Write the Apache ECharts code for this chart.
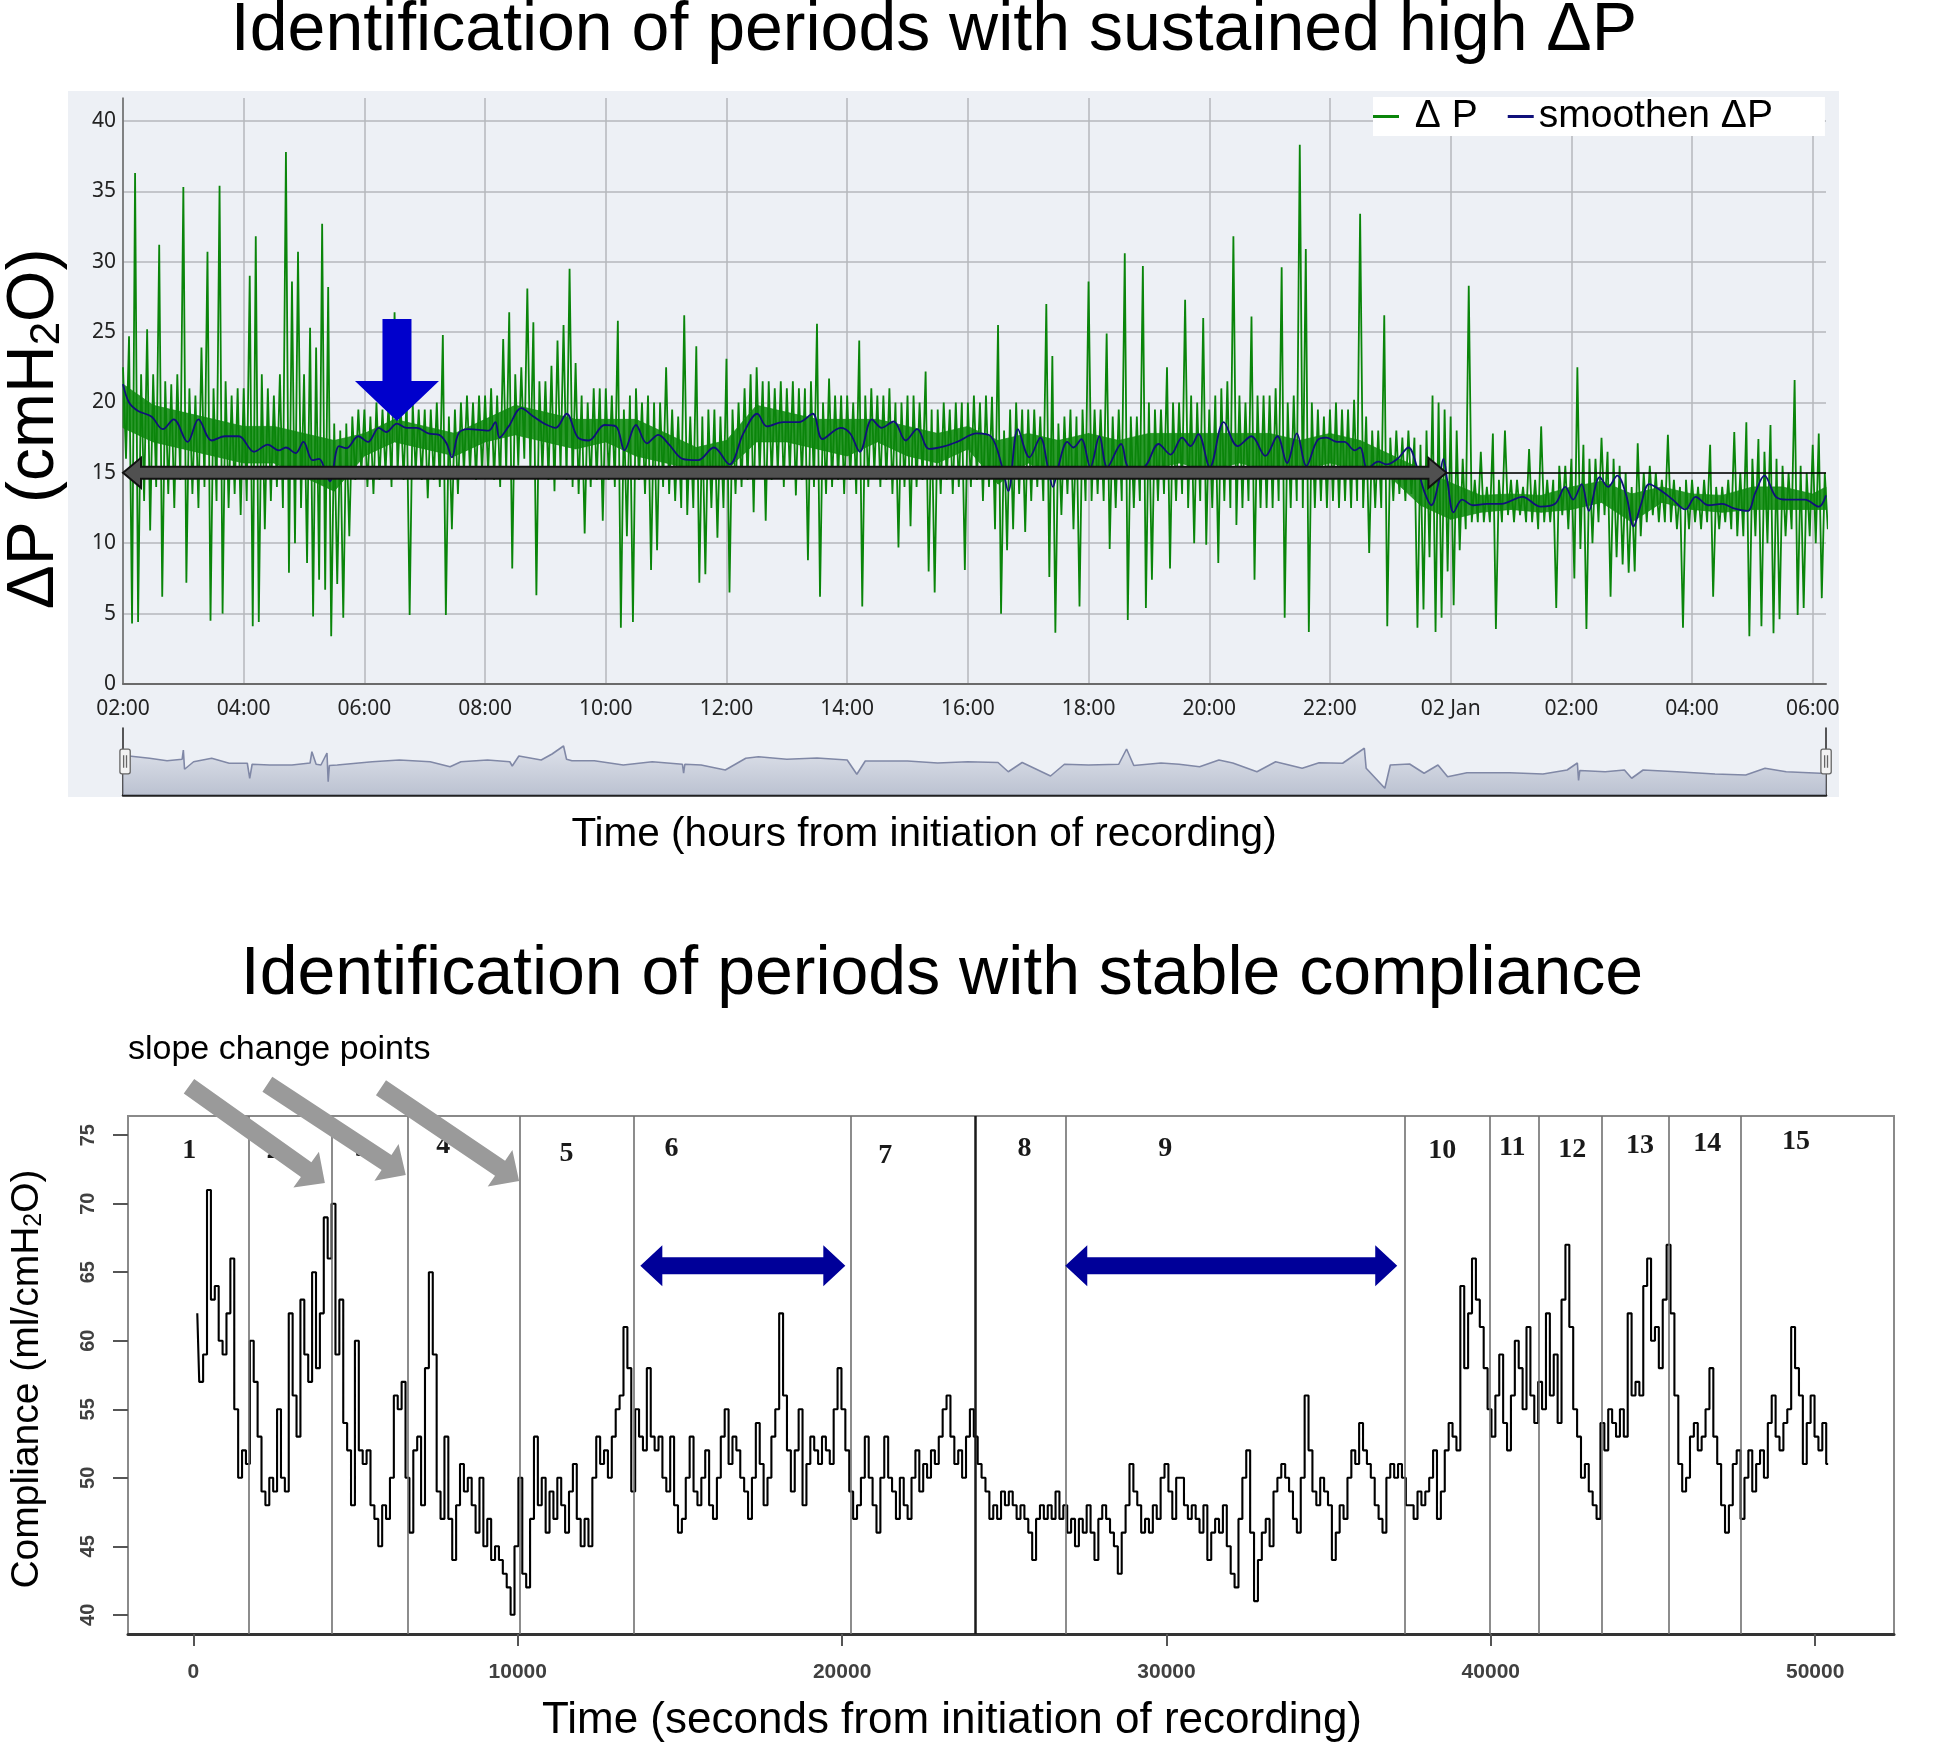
<!DOCTYPE html>
<html><head><meta charset="utf-8">
<script src="https://cdn.jsdelivr.net/npm/echarts@6/dist/echarts.min.js"></script>
<style>html,body{margin:0;padding:0;background:#fff;}#c{width:1948px;height:1745px;}</style>
</head><body><div id="c"></div>
<script>
// ---------- data: top chart (hours since 02:00) ----------
const timeTickLabels = ['02:00','04:00','06:00','08:00','10:00','12:00','14:00','16:00','18:00','20:00','22:00','02 Jan','02:00','04:00','06:00'];
const dpBinStart = 0, dpBinStep = 0.1;
const dpHigh = [
22.5,24.7,36.3,22,25.2,22,31.2,21.5,21.3,22,
35.3,21,20.5,23.9,30.7,21,35.4,21.5,20.5,21,
21,29,31.8,22,21,20.5,22,37.8,28.6,30.7,
22,25.3,23.9,32.7,28.2,18.5,18,18.5,19,19.5,
19.5,19,20,19.5,20,26.4,20,20.5,20,19.5,
19.5,19.5,20,24.8,19,19.5,20,20.5,20,20.5,
20.5,21,20.5,24.5,26.4,22,22.5,28.1,25.7,21.5,
21.5,22.6,24.4,25.5,29.5,22.8,20.5,20,21,21,
21,20.5,25.8,19.5,20.5,21,20,20.5,20,20,
22.5,19.5,19,26.2,19,24,19,19.5,19.5,19,
23.1,19.5,20,21,22,22.5,21.5,21.5,21,21.5,
21,21.5,21,21,21.5,25.6,20,21.7,20.5,20.5,
20.5,20,24.4,20.5,21,20.5,20.5,21,20,20,
20.5,20.5,20,22.2,19.5,19.5,20,19.5,20,20,
20,20.5,20,20.5,20.4,25.5,18,19.5,20,19.5,
19.5,19.5,19,27,23.3,18.5,19,19.5,19,19.5,
28.6,19.5,19.5,24.9,19,19.5,30.6,19,19,29.7,
20,19.5,19.5,22.5,20,20,27.3,20.5,20,26,
19.5,20.5,21,21.5,31.8,20.5,20,26.1,20.5,20.5,
20.5,21,29.6,20,20.5,38.3,30.9,20,19.5,19,
19.5,20,19.5,19.5,20.2,33.4,19,18,18,26.2,
17.5,18,17.5,18,17.5,17,18,20.5,20,19.5,
19,18,16,28.3,14.5,16.5,14,17.8,14.5,18,
14.5,14.5,14,16.7,14.5,18.3,14.5,14.5,15.5,15.5,
16,22.5,17,16,16,17.5,16.5,16,15.5,15,
14,17.1,15,15.5,15,14.5,17.7,14.5,14,14.5,
14.5,14,14.5,17,14,14,14.5,17.9,15,18.6,
16,17.4,16.5,18.4,16,15.5,15,21.6,15.5,15,
17,17.8,15];
const dpLow = [
16,4.3,4.4,13,10.9,14,6.2,13.5,12.5,14.5,
7.2,13.5,12.5,14,4.5,13,5,12.5,13.5,12,
13,4.1,4.4,11,13,14,12.5,7.9,10,12.5,
8.6,4.8,7.4,6.7,3.4,7.1,4.7,10.5,14.5,15,
14,13.5,14.5,15,14,15,14.5,4.9,15,14.5,
13.2,14.5,14,4.9,11,13.5,15,15,14.5,15,
15,14.5,14,15,8.2,15.5,16,15,6.3,15,
14.5,13.7,15,14.5,14,13.5,10.7,14,14.5,11.6,
14.5,14,4,10.5,4.4,14.5,13.5,8.1,9.5,14,
13.5,13,12.5,12,12.5,7.2,7.8,12.5,10.4,12.5,
6.5,13.5,14,14.5,12.2,15,11.6,14.5,15,14,
15,13.4,14.5,8.8,14,6.2,13.5,14,14.5,13.5,
14.5,13.5,5.5,14,15,14,14.5,13.5,9.7,14,
11.2,14,14.5,8,6.5,13.5,14.5,13.5,14,8.1,
14,14.5,13,14,11,5,9.5,11,13.5,10.8,
13,14,13,7.6,3.65,12,13.5,11,5.5,13,
13,13.5,13,9.6,12.5,13,4.55,12.5,13,5.4,
7.4,13,13.5,8.2,13,13.5,12.5,10,13,9.9,
12.5,8.6,13,12.5,11.3,12.5,13,7.4,12.5,12.5,
12.5,13,4.7,12.5,13,12.5,3.7,12.5,13,12.5,
13,12.5,13,12.5,13,12.5,9.3,12.5,12.5,4.1,
13,13.5,13,13.5,4,5.3,9,3.7,4.7,8,
5.6,9.5,11,11.5,11.5,11.5,11.5,3.9,11.5,12,
11.5,12,11.5,11.5,11,11.5,11.5,5.4,12,11,
7.5,9.6,3.9,10,11.5,12,6.2,9,8.5,7.9,
8,10.5,11.5,12,11.5,11.5,11.5,11,4,11,
11.5,11,11.5,6.2,11,11.5,11,10.5,10.5,3.4,
10.5,4.1,10,3.6,4.6,10.5,11,4.9,5.4,10.5,
10,6.1,11];
// dense core of the ΔP trace (where the samples are packed), read every 0.5 h
const coreT  = [0,0.5,1,1.5,2,2.5,3,3.5,4,4.5,5,5.5,6,6.5,7,7.5,8,8.5,9,9.5,10,10.5,11,11.5,12,12.5,13,13.5,14,14.5,15,15.5,16,16.5,17,17.5,18,18.5,19,19.5,20,20.5,21,21.5,22,22.5,23,23.5,24,24.5,25,25.5,26,26.5,27,27.5,28,28.22];
const coreHi = [21.3,19.8,19.3,18.8,18.3,18.3,17.8,17.3,17.8,18.8,18.3,17.8,18.8,19.8,19.3,18.8,18.8,18.8,17.8,16.8,17.3,19.8,19.3,18.8,18.8,18.8,18.3,17.8,18.3,17.3,17.8,17.3,17.8,17.3,17.8,17.8,17.8,17.8,17.8,17.3,17.8,17.3,16.3,15.3,14.3,13.4,13.5,13.4,14,14.4,13.5,14,13.5,13.4,14,14,13.5,14];
const coreLo = [18.2,17.2,16.7,16.2,15.7,15.7,14.7,13.7,16.2,17.2,16.7,16.2,17.2,17.7,17.2,16.7,17.2,16.2,15.7,15.2,15.2,17.2,17.2,16.7,16.2,17.2,16.2,15.7,16.7,14.2,15.7,14.7,15.2,14.7,15.2,15.7,15.2,15.7,15.2,15.2,15.7,15.2,14.7,12.7,11.7,12.2,12.4,12.2,12.4,12.9,11.5,12.9,12.4,12.2,12.4,12.4,12.4,12.4];
const smoothT = [0,0.1,0.25,0.47,0.66,0.84,1.07,1.25,1.47,1.69,1.92,2.17,2.4,2.58,2.7,2.86,2.99,3.14,3.25,3.34,3.43,3.58,3.7,3.9,4.06,4.24,4.36,4.54,4.69,4.87,5.06,5.24,5.36,5.45,5.56,5.72,6.06,6.17,6.24,6.39,6.6,6.8,6.98,7.17,7.35,7.54,7.72,7.98,8.17,8.31,8.5,8.68,8.87,9.05,9.27,9.53,9.79,10.05,10.28,10.51,10.67,10.94,11.2,11.43,11.59,11.89,12.05,12.21,12.41,12.57,12.77,12.97,13.16,13.36,13.62,13.82,14.15,14.38,14.57,14.67,14.83,15.02,15.2,15.33,15.41,15.49,15.65,15.75,15.88,16.03,16.18,16.31,16.54,16.67,16.9,17.16,17.36,17.55,17.69,17.82,18.01,18.24,18.47,18.7,18.93,19.13,19.29,19.45,19.61,19.79,19.94,20.12,20.24,20.41,20.5,20.62,20.8,20.94,21.12,21.3,21.45,21.57,21.68,21.8,21.88,21.95,22.05,22.19,22.37,22.6,22.84,23.19,23.49,23.73,23.9,24.03,24.17,24.29,24.47,24.61,24.76,24.91,25.03,25.15,25.29,25.5,25.68,25.89,26.06,26.27,26.5,26.68,26.92,27.05,27.2,27.39,27.57,27.87,28.1,28.22];
const smoothV = [21.3,20.0,19.4,19.0,18.1,18.8,17.2,18.8,17.3,17.6,17.6,16.5,17.0,16.6,16.8,16.4,17.2,15.9,16.0,15.3,14.4,16.9,16.75,17.6,17.2,18.2,17.9,18.5,18.2,18.2,17.8,17.7,17.1,16.1,17.8,18.1,18.0,18.6,17.5,18.3,19.6,19.0,18.5,18.2,19.2,17.5,17.3,18.4,18.3,16.6,18.4,17.1,17.7,17.0,16.0,15.9,16.8,15.6,17.8,19.2,18.3,18.6,18.6,19.2,17.4,18.2,17.8,16.5,18.8,18.2,18.65,17.3,18.1,16.7,16.9,17.2,17.8,17.6,15.4,13.7,18.1,16.1,17.5,15.3,14.0,15.3,17.2,16.8,17.4,15.4,17.6,15.4,17.05,15.4,15.4,17.05,16.3,17.5,16.9,17.75,15.4,18.6,16.9,17.6,16.2,17.6,15.7,17.8,15.5,17.3,17.5,17.2,17.2,16.6,16.8,15.3,15.8,15.6,16.0,16.8,15.3,13.6,12.7,14.3,16.0,14.3,12.2,13.1,12.7,12.8,12.8,13.3,12.6,12.8,14.0,13.1,14.2,12.3,14.7,14.0,14.8,13.4,11.2,12.7,14.2,13.7,13.1,12.4,13.3,12.7,12.8,12.5,12.3,13.6,14.8,13.3,13.1,13.1,12.6,13.4];
const navT = [0,0.1,0.44,0.73,0.98,1.0,1.02,1.17,1.47,1.76,2.06,2.1,2.14,2.43,2.8,3.1,3.13,3.2,3.28,3.38,3.4,3.42,3.55,4.13,4.58,5.09,5.42,5.6,6.04,6.41,6.45,6.56,6.93,7.11,7.3,7.35,7.44,7.81,8.29,8.77,9.27,9.29,9.31,9.58,9.98,10.32,10.53,11.0,11.5,12.0,12.16,12.3,13.0,13.5,14.0,14.5,14.67,14.9,15.37,15.6,16.0,16.5,16.63,16.75,17.2,17.5,17.84,18.16,18.39,18.79,19.1,19.54,19.82,20.21,20.57,20.6,20.91,21.0,21.32,21.56,21.79,21.95,22.27,22.98,23.53,23.93,24.1,24.12,24.14,24.56,24.88,25.0,25.19,25.75,26.38,26.89,27.21,27.56,28.12,28.22];
const navV = [20.5,19.8,18.9,17.9,18.5,22.2,14.5,17.5,18.9,16.9,16.9,10.9,16.5,16.2,16.2,17,21.5,16.5,16.2,21,9.5,16,16.2,17.5,18.2,17.5,15.5,17.5,18.2,17.5,15.8,19.8,18.2,20.6,23.8,18.5,17.9,17.9,16.2,17.5,16.5,12.9,16.5,16.2,14.2,18.9,19.5,18.5,19,18.2,12.5,17.8,17.8,17,17.5,17.2,13.5,17.2,11.8,16.5,16.2,16.5,22.6,16,17,16.5,15.5,18.2,17,13.5,17.5,14.9,17.1,16.9,22.9,14.9,6.9,16.2,16.6,12.9,16.2,11.5,13.1,13.1,12.6,14.2,17,10,14,13.5,14.2,10.9,14.2,13.5,12.6,12.2,14.9,13.5,12.9,13.2];
const dpThreshold = 15;
const highDpSpan = [0, 21.93, 15];          // start h, end h, level
const markerArrow = [4.54, 25.93, 18.69];   // h, top value, tip value

// ---------- data: bottom chart (seconds) ----------
const compStart = 120, compStep = 120;
const compliance = [
62,57,59,71,63,64,60,59,62,66, 55,50,52,51,60,57,53,49,48,50,
49,55,50,49,62,56,53,63,59,57, 65,58,62,69,66,70,59,63,54,52,
48,60,52,51,52,48,47,45,48,47, 50,56,55,57,50,46,52,53,48,58,
65,59,49,47,53,47,44,48,51,49, 50,48,46,50,45,47,44,45,44,43,
42,40,45,50,43,42,47,53,48,50, 46,49,47,50,48,46,49,51,47,45,
47,45,50,53,51,52,50,53,55,56, 61,58,49,55,53,52,58,53,52,53,
50,49,53,48,46,47,50,53,49,48, 50,52,48,47,50,53,55,51,53,52,
50,49,47,50,54,51,48,50,53,55, 62,56,52,49,52,55,48,51,53,52,
51,53,52,51,55,58,55,52,49,47, 48,50,53,50,48,46,50,53,50,49,
47,50,48,47,50,52,49,51,50,52, 51,53,55,56,53,51,52,50,53,55,
53,51,50,49,47,48,47,49,48,49, 48,47,48,47,46,44,47,48,47,48,
47,49,47,48,46,47,45,47,46,48, 46,44,47,48,47,46,45,43,46,48,
51,49,48,46,47,46,48,47,50,51, 49,47,50,50,48,47,48,47,46,48,
44,46,47,46,48,45,43,42,47,50, 52,46,41,44,46,47,45,49,50,51,
50,49,47,46,50,56,52,49,48,50, 49,48,44,46,48,47,50,52,51,54,
52,51,50,48,47,46,50,51,50,51, 50,48,48,47,49,48,49,50,52,47,
49,52,54,53,52,64,58,62,66,63, 61,58,55,53,56,59,54,52,56,60,
58,55,61,56,54,57,55,62,56,59, 54,63,67,61,55,53,50,51,49,48,
47,54,52,55,54,53,55,53,62,56, 57,56,64,66,60,61,58,63,67,62,
56,51,49,50,53,54,52,53,55,58, 53,51,48,46,48,51,52,47,50,52,
49,51,52,50,54,56,53,52,54,55, 61,58,56,51,54,56,53,52,54,51];
const secondTicks = [0,10000,20000,30000,40000,50000];
const complianceTicks = [40,45,50,55,60,65,70,75];
const changePoints = [1711,4254,6612,10049,13582,20253,24106,26880,37361,39982,41492,43434,45499,47703];
const segmentNames = ['1','2','3','4','5','6','7','8','9','10','11','12','13','14','15'];
const segmentX = [-130,2470,5200,7700,11500,14740,21330,25620,29960,38500,40660,42510,44600,46670,49410];
const segmentY = [73.84,73.84,73.98,74.2,73.62,73.98,73.47,73.98,73.98,73.84,74.05,73.9,74.2,74.35,74.5];
const stableSpans = [[13779,20099,65.47],[26880,37115,65.47]];
const slopeArrows = [[-136,78.57,4054,71.51],[2281,78.71,6547,72.09],[5783,78.46,10042,71.65]];

// ---------- build ----------
const dpData = [];
for (let i = 0; i < dpHigh.length; i++) {
  const t = dpBinStart + i * dpBinStep;
  dpData.push([+t.toFixed(3), dpHigh[i]]);
  dpData.push([+(t + dpBinStep / 2).toFixed(3), dpLow[i]]);
}
const coreRows = coreT.map((t, i) => [t, coreLo[i], coreHi[i]]);
const smoothData = smoothT.map((t, i) => [t, smoothV[i]]);
const navData = navT.map((t, i) => [t, navV[i]]);
const compData = compliance.map((v, i) => [compStart + i * compStep, v]);

const FONT = 'Liberation Sans';
const GREEN = '#0a850a';
const grayLines = (n) => { const a = []; for (let i = 0; i < n; i++) a.push('#b5b7bb'); a.push('rgba(0,0,0,0)'); return a; };

function doubleArrow(sh, hh, hl, fill, stroke, lw) {
  return function (params, api) {
    const p0 = api.coord([api.value(0), api.value(2)]);
    const p1 = api.coord([api.value(1), api.value(2)]);
    const y = p0[1], x0 = p0[0], x1 = p1[0];
    return { type: 'polygon', shape: { points: [[x0,y],[x0+hl,y-hh],[x0+hl,y-sh],[x1-hl,y-sh],[x1-hl,y-hh],[x1,y],[x1-hl,y+hh],[x1-hl,y+sh],[x0+hl,y+sh],[x0+hl,y+hh]] },
      style: { fill: fill, stroke: stroke, lineWidth: lw } };
  };
}
function pointerArrow(sh, hh, hl, fill) {
  return function (params, api) {
    const a = api.coord([api.value(0), api.value(1)]);
    const b = api.coord([api.value(2), api.value(3)]);
    const dx = b[0]-a[0], dy = b[1]-a[1], L = Math.hypot(dx, dy);
    const ux = dx/L, uy = dy/L, nx = -uy, ny = ux;
    const bx = b[0]-ux*hl, by = b[1]-uy*hl;
    return { type: 'polygon', shape: { points: [
      [a[0]+nx*sh, a[1]+ny*sh],[bx+nx*sh, by+ny*sh],[bx+nx*hh, by+ny*hh],[b[0], b[1]],
      [bx-nx*hh, by-ny*hh],[bx-nx*sh, by-ny*sh],[a[0]-nx*sh, a[1]-ny*sh]] },
      style: { fill: fill } };
  };
}

const option = {
  animation: false,
  textStyle: { fontFamily: FONT },
  legend: {
    left: 1373, top: 97, orient: 'horizontal', backgroundColor: '#fff',
    padding: [0, 52, 0, 0], itemGap: 30, itemWidth: 26, itemHeight: 3,
    textStyle: { fontSize: 39, color: '#000', fontFamily: FONT, lineHeight: 32 },
    formatter: (n) => n === 'ΔP' ? ' Δ P' : n,
    data: [{ name: 'ΔP', icon: 'rect' }, { name: 'smoothen ΔP', icon: 'rect' }]
  },
  grid: [
    { left: 123, right: 122, top: 98, height: 586 },
    { left: 123, right: 122, top: 728, height: 67 },
    { left: 128, right: 54, top: 1116, height: 518, show: true, borderColor: '#8a8a8a', borderWidth: 2 }
  ],
  xAxis: [
    { gridIndex: 0, type: 'value', min: 0, max: 28.22, interval: 2,
      axisLine: { show: true, onZero: false, lineStyle: { color: '#6a6a6a', width: 2 } },
      axisTick: { show: false },
      axisLabel: { fontSize: 21, color: '#222', fontFamily: 'Noto Sans', margin: 15, showMaxLabel: false,
        formatter: (v) => { const i = Math.round(v / 2); return Math.abs(v - 2 * i) < 1e-6 ? (timeTickLabels[i] || '') : ''; } },
      splitLine: { show: true, showMaxLine: false, lineStyle: { color: grayLines(15), width: 1.5 } } },
    { gridIndex: 1, type: 'value', min: 0, max: 28.22,
      axisLine: { show: true, onZero: false, lineStyle: { color: '#222', width: 2.5 } },
      axisTick: { show: false }, axisLabel: { show: false }, splitLine: { show: false } },
    { gridIndex: 2, type: 'value', min: -2016, max: 52430,
      axisLine: { show: true, onZero: false, lineStyle: { color: '#333', width: 3 } },
      axisTick: { show: true, customValues: secondTicks, length: 12, lineStyle: { color: '#555', width: 2 } },
      axisLabel: { customValues: secondTicks, fontSize: 21, fontWeight: 'bold', color: '#404040', margin: 28, formatter: (v) => String(v) },
      splitLine: { show: false } }
  ],
  yAxis: [
    { gridIndex: 0, type: 'value', min: 0, max: 41.63, interval: 5,
      axisLine: { show: true, onZero: false, lineStyle: { color: '#6a6a6a', width: 1.5 } },
      axisTick: { show: false },
      axisLabel: { fontSize: 21, color: '#222', fontFamily: 'Noto Sans', margin: 7, showMaxLabel: false, padding: [12, 0, 0, 0] },
      splitLine: { show: true, showMaxLine: false, lineStyle: { color: grayLines(9), width: 1.5 } } },
    { gridIndex: 1, type: 'value', min: 4.2, max: 31,
      axisLine: { show: true, onZero: false, lineStyle: { color: '#222', width: 1.5 } },
      axisTick: { show: false }, axisLabel: { show: false }, splitLine: { show: false } },
    { gridIndex: 1, type: 'value', position: 'right', min: 4.2, max: 31,
      axisLine: { show: true, onZero: false, lineStyle: { color: '#222', width: 1.5 } },
      axisTick: { show: false }, axisLabel: { show: false }, splitLine: { show: false } },
    { gridIndex: 2, type: 'value', min: 38.6, max: 76.4,
      axisLine: { show: false, onZero: false },
      axisTick: { show: true, customValues: complianceTicks, length: 15, lineStyle: { color: '#555', width: 2 } },
      axisLabel: { customValues: complianceTicks, rotate: 90, fontSize: 20, fontWeight: 'bold', color: '#404040', margin: 30 },
      splitLine: { show: false } }
  ],
  dataZoom: [{
    type: 'slider', xAxisIndex: 0, filterMode: 'none', start: 0, end: 100, zoomLock: true,
    left: 123, right: 122, top: 728, height: 67,
    showDetail: false, showDataShadow: false, brushSelect: false, moveHandleSize: 0,
    backgroundColor: 'rgba(0,0,0,0)', fillerColor: 'rgba(0,0,0,0)', borderColor: 'rgba(0,0,0,0)',
    handleIcon: 'path://M2,0L8,0Q10,0,10,2L10,22Q10,24,8,24L2,24Q0,24,0,22L0,2Q0,0,2,0ZM3.6,6L3.6,18M6.4,6L6.4,18',
    handleSize: '37%',
    handleStyle: { color: '#f3f3f3', borderColor: '#666', borderWidth: 1.3 },
    emphasis: { handleStyle: { color: '#f3f3f3', borderColor: '#666', borderWidth: 1.3 } },
    moveHandleStyle: { opacity: 0 },
    dataBackground: { lineStyle: { opacity: 0 }, areaStyle: { opacity: 0 } },
    selectedDataBackground: { lineStyle: { opacity: 0 }, areaStyle: { opacity: 0 } }
  }],
  graphic: [
    { type: 'rect', z: -100, silent: true, shape: { x: 68, y: 91, width: 1771, height: 706 }, style: { fill: '#edf0f5' } },
    { type: 'text', x: 934, y: 31, style: { text: 'Identification of periods with sustained high ΔP', fontSize: 68, fontFamily: FONT, fill: '#000', align: 'center', verticalAlign: 'middle', textAlign: 'center', textVerticalAlign: 'middle' } },
    { type: 'text', x: 942, y: 975, style: { text: 'Identification of periods with stable compliance', fontSize: 68, fontFamily: FONT, fill: '#000', align: 'center', verticalAlign: 'middle', textAlign: 'center', textVerticalAlign: 'middle' } },
    { type: 'text', x: 924, y: 835, style: { text: 'Time (hours from initiation of recording)', fontSize: 40.5, fontFamily: FONT, fill: '#000', align: 'center', verticalAlign: 'middle', textAlign: 'center', textVerticalAlign: 'middle' } },
    { type: 'text', x: 952, y: 1721, style: { text: 'Time (seconds from initiation of recording)', fontSize: 44, fontFamily: FONT, fill: '#000', align: 'center', verticalAlign: 'middle', textAlign: 'center', textVerticalAlign: 'middle' } },
    { type: 'text', x: 128, y: 1050, style: { text: 'slope change points', fontSize: 34, fontFamily: FONT, fill: '#000', align: 'left', verticalAlign: 'middle', textAlign: 'left', textVerticalAlign: 'middle' } },
    { type: 'text', x: 35, y: 429, rotation: Math.PI / 2, style: { text: 'ΔP (cmH{s|2}O)', fontSize: 66, fontFamily: FONT, fill: '#000', align: 'center', verticalAlign: 'middle', textAlign: 'center', textVerticalAlign: 'middle',
      rich: { s: { fontSize: 42, fontFamily: FONT, fill: '#000', lineHeight: 26, verticalAlign: 'bottom' } } } },
    { type: 'text', x: 27, y: 1379, rotation: Math.PI / 2, style: { text: 'Compliance (ml/cmH{s|2}O)', fontSize: 39, fontFamily: FONT, fill: '#000', align: 'center', verticalAlign: 'middle', textAlign: 'center', textVerticalAlign: 'middle',
      rich: { s: { fontSize: 25, fontFamily: FONT, fill: '#000', lineHeight: 16, verticalAlign: 'bottom' } } } }
  ],
  series: [
    { type: 'custom', xAxisIndex: 0, yAxisIndex: 0, z: 1, silent: true,
      data: coreRows, encode: { x: 0, y: [1, 2] },
      renderItem: function (params, api) {
        const i = params.dataIndex;
        if (i >= coreT.length - 1) return null;
        const a = api.coord([coreT[i], coreHi[i]]), b = api.coord([coreT[i + 1], coreHi[i + 1]]);
        const c = api.coord([coreT[i + 1], coreLo[i + 1]]), d = api.coord([coreT[i], coreLo[i]]);
        return { type: 'polygon', shape: { points: [a, b, c, d] }, style: { fill: '#128c12', stroke: '#128c12', lineWidth: 0.8, opacity: 0.88 } };
      } },
    { name: 'ΔP', type: 'line', xAxisIndex: 0, yAxisIndex: 0, data: dpData, showSymbol: false, symbol: 'none',
      color: GREEN, lineStyle: { color: GREEN, width: 1.8 }, z: 2, silent: true,
      markLine: { silent: true, symbol: 'none', label: { show: false }, lineStyle: { color: '#000', width: 1.5, type: 'solid' }, data: [{ yAxis: dpThreshold }] } },
    { name: 'smoothen ΔP', type: 'line', xAxisIndex: 0, yAxisIndex: 0, data: smoothData, smooth: 0.35, showSymbol: false, symbol: 'none',
      color: '#10107a', lineStyle: { color: '#10107a', width: 1.8 }, z: 3, silent: true },
    { type: 'custom', xAxisIndex: 0, yAxisIndex: 0, z: 6, silent: true, clip: false,
      data: [highDpSpan], encode: { x: [0, 1], y: 2 },
      renderItem: doubleArrow(6, 15, 18, '#505050', '#111', 2) },
    { type: 'custom', xAxisIndex: 0, yAxisIndex: 0, z: 7, silent: true, clip: false,
      data: [markerArrow], encode: { x: 0, y: [1, 2] },
      renderItem: function (params, api) {
        const top = api.coord([api.value(0), api.value(1)]);
        const tip = api.coord([api.value(0), api.value(2)]);
        const x = tip[0], hs = tip[1] - 40;
        return { type: 'polygon', shape: { points: [[x-14.5, top[1]],[x+14.5, top[1]],[x+14.5, hs],[x+42, hs],[x, tip[1]],[x-42, hs],[x-14.5, hs]] }, style: { fill: '#0000cc' } };
      } },
    { type: 'line', xAxisIndex: 1, yAxisIndex: 1, data: navData, showSymbol: false, symbol: 'none', silent: true,
      lineStyle: { color: '#8088a6', width: 1.6 },
      areaStyle: { origin: 'start', color: new echarts.graphic.LinearGradient(0, 0, 0, 1, [{ offset: 0, color: '#d8dce6' }, { offset: 1, color: '#a6aec2' }]) } },
    { type: 'line', xAxisIndex: 2, yAxisIndex: 3, data: compData, step: 'middle', showSymbol: false, symbol: 'none', silent: true,
      lineStyle: { color: '#000', width: 2.1 }, z: 3,
      markLine: { silent: true, symbol: 'none', label: { show: false },
        data: changePoints.map((x, i) => ({ xAxis: x, lineStyle: i === 6 ? { color: '#1a1a1a', width: 2.5, type: 'solid' } : { color: '#707070', width: 1.6, type: 'solid' } })) } },
    { type: 'custom', xAxisIndex: 2, yAxisIndex: 3, z: 5, silent: true, clip: false,
      data: segmentX.map((x, i) => [x, segmentY[i]]),
      renderItem: function (params, api) {
        const p = api.coord([api.value(0), api.value(1)]);
        return { type: 'text', x: p[0], y: p[1], style: { text: segmentNames[params.dataIndex], fontSize: 28, fontWeight: 'bold', fontFamily: 'Liberation Serif', fill: '#1a1a1a', align: 'center', verticalAlign: 'middle' } };
      } },
    { type: 'custom', xAxisIndex: 2, yAxisIndex: 3, z: 6, silent: true, clip: false,
      data: stableSpans, encode: { x: [0, 1], y: 2 },
      renderItem: doubleArrow(8.5, 20.5, 22, '#000099', null, 0) },
    { type: 'custom', xAxisIndex: 2, yAxisIndex: 3, z: 7, silent: true, clip: false,
      data: slopeArrows, encode: { x: [0, 2], y: [1, 3] },
      renderItem: pointerArrow(9, 22, 23, '#9a9a9a') }
  ]
};
const chart = echarts.init(document.getElementById('c'), null, { renderer: 'canvas' });
chart.setOption(option);
</script></body></html>
